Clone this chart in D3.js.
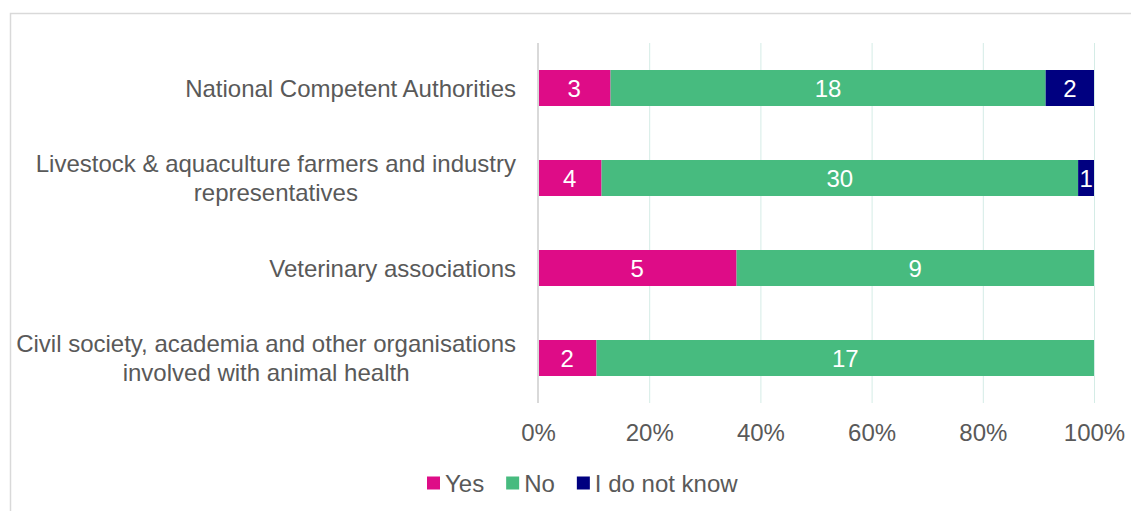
<!DOCTYPE html>
<html>
<head>
<meta charset="utf-8">
<script src="https://cdn.jsdelivr.net/npm/d3@7"></script>
<style>
  html, body { margin: 0; padding: 0; background: #fff; }
  svg text { font-family: "Liberation Sans", Arial, sans-serif; }
</style>
</head>
<body>
<svg id="chart" width="1131" height="511"></svg>
<script>
// Respondent groups (each entry is a list of label lines)
const categories = [
  ["National Competent Authorities"],
  ["Livestock & aquaculture farmers and industry", "representatives"],
  ["Veterinary associations"],
  ["Civil society, academia and other organisations", "involved with animal health"]
];
const seriesNames = ["Yes", "No", "I do not know"];
const yesCounts = [3, 4, 5, 2];
const noCounts = [18, 30, 9, 17];
const dontKnowCounts = [2, 1, 0, 0];
const tickValues = [0, 0.2, 0.4, 0.6, 0.8, 1.0];
const colors = ["#DE0C87", "#47BB7F", "#000080"];

const svg = d3.select("#chart");
const W = 1131, H = 511;
const FS = 24;

// outer frame
svg.append("rect")
  .attr("x", 10.5).attr("y", 13.5)
  .attr("width", W + 10).attr("height", H + 10)
  .attr("fill", "none").attr("stroke", "#d9d9d9").attr("stroke-width", 1.5);

const plot = { left: 538, right: 1094, top: 43, bottom: 403 };

const rows = categories.map((c, i) => {
  const vals = [yesCounts[i], noCounts[i], dontKnowCounts[i]];
  return { idx: i, label: c, vals, total: d3.sum(vals) };
});

const x = d3.scaleLinear().domain([0, 1]).range([plot.left, plot.right]);
const y = d3.scaleBand().domain(d3.range(categories.length))
  .range([plot.top, plot.bottom]).paddingInner(0.6).paddingOuter(0.3);

// gridlines
svg.append("g")
  .selectAll("line")
  .data(tickValues.slice(1))
  .join("line")
  .attr("x1", d => x(d) + 0.5).attr("x2", d => x(d) + 0.5)
  .attr("y1", plot.top).attr("y2", plot.bottom)
  .attr("stroke", "#d4ece6").attr("stroke-width", 1);

// stacked bars
const stackData = rows.map(r => {
  let acc = 0;
  return r.vals.map((v, k) => {
    const seg = { row: r.idx, k, v, x0: acc / r.total, x1: (acc + v) / r.total };
    acc += v;
    return seg;
  });
}).flat().filter(d => d.v > 0);

svg.append("g")
  .selectAll("rect")
  .data(stackData)
  .join("rect")
  .attr("x", d => x(d.x0))
  .attr("width", d => x(d.x1) - x(d.x0))
  .attr("y", d => y(d.row))
  .attr("height", y.bandwidth())
  .attr("fill", d => colors[d.k]);

svg.append("g")
  .selectAll("text")
  .data(stackData)
  .join("text")
  .attr("x", d => (x(d.x0) + x(d.x1)) / 2)
  .attr("y", d => y(d.row) + y.bandwidth() / 2)
  .attr("dy", "0.36em")
  .attr("text-anchor", "middle")
  .attr("fill", "#fff")
  .attr("font-size", FS)
  .text(d => d.v);

// vertical axis line at 0%
svg.append("line")
  .attr("x1", plot.left).attr("x2", plot.left)
  .attr("y1", plot.top).attr("y2", plot.bottom)
  .attr("stroke", "#d9d9d9").attr("stroke-width", 2);

// x axis tick labels
const xAxis = d3.axisBottom(x).tickValues(tickValues)
  .tickFormat(d3.format(".0%")).tickSize(0).tickPadding(0);
const gx = svg.append("g").attr("transform", `translate(0, ${plot.bottom + 29})`).call(xAxis);
gx.select(".domain").remove();
gx.selectAll("text")
  .attr("font-size", FS).attr("fill", "#595959")
  .attr("font-family", "Liberation Sans, Arial, sans-serif")
  .attr("y", 0)
  .attr("dy", "0.36em");

// category labels: block right-aligned, lines centred within the block
const labelRight = 516, lineH = 29;
rows.forEach(r => {
  const g = svg.append("g");
  const n = r.label.length;
  const cy = y(r.idx) + y.bandwidth() / 2;
  const texts = r.label.map((line, j) => g.append("text")
    .attr("y", cy + (j - (n - 1) / 2) * lineH)
    .attr("dy", "0.36em")
    .attr("font-size", FS).attr("fill", "#595959")
    .attr("text-anchor", "middle")
    .text(line));
  const widths = texts.map(t => t.node().getComputedTextLength());
  const maxW = d3.max(widths);
  texts.forEach(t => t.attr("x", labelRight - maxW / 2));
});

// legend
const legendItems = seriesNames.map((name, k) => ({ name, color: colors[k] }));
const legend = svg.append("g");
let lx = 427;
const ly = 483;
legendItems.forEach(item => {
  legend.append("rect")
    .attr("x", lx).attr("y", ly - 6.5)
    .attr("width", 13).attr("height", 13)
    .attr("fill", item.color);
  const t = legend.append("text")
    .attr("x", lx + 18).attr("y", ly)
    .attr("dy", "0.36em")
    .attr("font-size", FS).attr("fill", "#595959")
    .text(item.name);
  lx += 18 + t.node().getComputedTextLength() + 22;
});
</script>
</body>
</html>
